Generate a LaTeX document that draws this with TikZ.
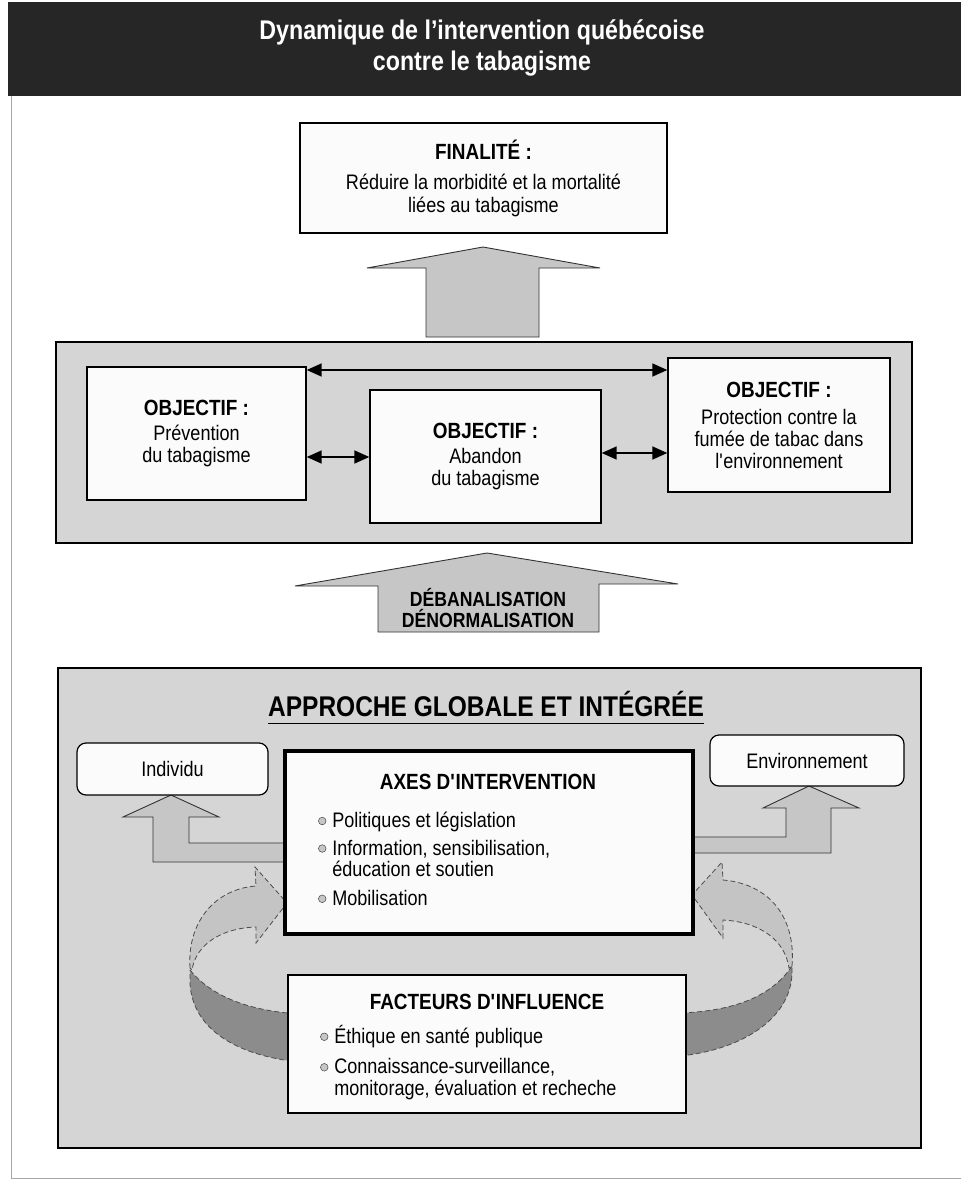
\documentclass[tikz,border=0pt]{standalone}
\usepackage{fontspec}
\setmainfont{Liberation Sans}[FakeStretch=0.86]
\usetikzlibrary{arrows.meta}

\definecolor{barcol}{HTML}{262626}
\definecolor{panelcol}{HTML}{D5D5D5}
\definecolor{arrowcol}{HTML}{C6C6C6}
\definecolor{ribbonlight}{HTML}{C4C4C4}
\definecolor{ribbondark}{HTML}{8C8C8C}
\definecolor{boxcol}{HTML}{FBFBFB}

% small grey bullet used in the lists
\newcommand\puce{\tikz[baseline=-0.6ex]\draw[fill=gray!45,draw=gray!55!black,line width=0.5pt] (0,0) circle (3.8pt);}
% straight apostrophe
\newcommand\apos{\textquotesingle}

\begin{document}
\begin{tikzpicture}[x=1pt,y=-1pt,
  panel/.style={draw=black,line width=1.8pt,fill=panelcol,inner sep=0pt},
  box/.style={draw=black,line width=1.4pt,fill=boxcol,inner sep=0pt,align=center,
              font=\fontsize{21}{22}\selectfont},
  roundbox/.style={box,rounded corners=9pt,line width=1.2pt},
  blockarrow/.style={draw=black!80,line width=0.9pt,fill=arrowcol,line join=miter},
  dlink/.style={{Triangle[length=15pt,width=13pt]}-{Triangle[length=15pt,width=13pt]},line width=1.6pt},
  ribbon/.style={draw=black!70,dash pattern=on 5pt off 3pt,line width=0.8pt},
  headtxt/.style={inner sep=0pt,font=\bfseries\fontsize{22}{24}\selectfont},
  bodytxt/.style={inner sep=0pt,align=left,font=\fontsize{21}{21}\selectfont},
]
\useasboundingbox (0,0) rectangle (961,1185);
\fill[white] (0,0) rectangle (961,1185);

% title bar
\fill[barcol] (8,2) rectangle (961,96);
\node[text=white,align=center,font=\bfseries\fontsize{27}{31}\selectfont] (title) at (482,48)
  {Dynamique de l’intervention québécoise\\contre le tabagisme};
\draw[gray!70,line width=0.8pt] (11,96) -- (11,1178) -- (961,1178);

% finality
\node[box,minimum width=367pt,minimum height=110pt] (fin) at (483.5,178)
  {{\bfseries\fontsize{22}{24}\selectfont FINALITÉ :}\\[8pt]Réduire la morbidité et la mortalité\\[1pt]liées au tabagisme};

\draw[blockarrow] (483,247) -- (600,268) -- (539,268) -- (539,337) -- (426,337)
  -- (426,268) -- (367,268) -- cycle;

% objectives
\node[panel,minimum width=856pt,minimum height=201pt] (objpanel) at (484,442.5) {};
\node[box,minimum width=219pt,minimum height=133pt] (obj1) at (196.5,433.5)
  {{\bfseries\fontsize{22}{24}\selectfont OBJECTIF :}\\[3pt]Prévention\\du tabagisme};
\node[box,minimum width=231pt,minimum height=133pt] (obj2) at (485.5,456.5)
  {{\bfseries\fontsize{22}{24}\selectfont OBJECTIF :}\\[3pt]Abandon\\du tabagisme};
\node[box,minimum width=222pt,minimum height=134pt] (obj3) at (779,425)
  {{\bfseries\fontsize{22}{24}\selectfont OBJECTIF :}\\[5pt]Protection contre la\\fumée de tabac dans\\l\apos environnement};

\coordinate (rowtop) at (0,370);
\coordinate (rowleft) at (0,457);
\coordinate (rowright) at (0,453);
\draw[dlink] (obj1.east |- rowtop) -- (obj3.west |- rowtop);
\draw[dlink] (obj1.east |- rowleft) -- (obj2.west |- rowleft);
\draw[dlink] (obj2.east |- rowright) -- (obj3.west |- rowright);

% debanalisation arrow
\draw[blockarrow] (487,553) -- (678,584) -- (599,584) -- (599,632) -- (378,632)
  -- (378,586) -- (295,586) -- cycle;
\node[headtxt,align=center,font=\bfseries\fontsize{20.5}{21.5}\selectfont] (deban) at (488,608)
  {DÉBANALISATION\\DÉNORMALISATION};

% global approach
\node[panel,minimum width=863pt,minimum height=480pt] (approche) at (489.5,908) {};
\node[inner sep=0pt,font=\bfseries\fontsize{28.5}{32}\selectfont] (apptitle) at (486,704)
  {APPROCHE GLOBALE ET INTÉGRÉE};
\draw[line width=1.6pt] ([yshift=-7pt]apptitle.base west) -- ([yshift=-7pt]apptitle.base east);

% feedback ribbons
\fill[ribbondark] (190,970) .. controls (212,997) and (250,1011) .. (300,1014)
  -- (300,1062) .. controls (238,1056) and (193,1030) .. (190,984) -- cycle;
\draw[ribbon] (190,970) .. controls (212,997) and (250,1011) .. (300,1014);
\draw[ribbon] (300,1062) .. controls (238,1056) and (193,1030) .. (190,984) -- (190,970);
\draw[ribbon,fill=ribbonlight] (190,968) .. controls (187,922) and (215,889) .. (256,886)
  -- (255,867) -- (287,903) -- (256,943) -- (256,927)
  .. controls (222,928) and (196,944) .. (192,970) -- cycle;

\fill[ribbondark] (792,966) .. controls (772,996) and (735,1011) .. (680,1013)
  -- (680,1056) .. controls (740,1050) and (790,1020) .. (792,974) -- cycle;
\draw[ribbon] (792,966) .. controls (772,996) and (735,1011) .. (680,1013);
\draw[ribbon] (680,1056) .. controls (740,1050) and (790,1020) .. (792,974) -- (792,966);
\draw[ribbon,fill=ribbonlight] (792,966) .. controls (796,918) and (770,884) .. (723,880)
  -- (722,862) -- (692,895) -- (723,938) -- (723,920)
  .. controls (760,922) and (785,940) .. (789,968) -- cycle;

% arrows towards individual and environment
\draw[blockarrow] (171,795) -- (219,817) -- (189,817) -- (189,843) -- (286,843)
  -- (286,862) -- (153,862) -- (153,817) -- (123,817) -- cycle;
\draw[blockarrow] (809,786) -- (859,808) -- (831,808) -- (831,853) -- (692,853)
  -- (692,837) -- (786,837) -- (786,808) -- (763,808) -- cycle;

\node[roundbox,minimum width=191pt,minimum height=52pt] (indiv) at (172.5,769) {Individu};
\node[roundbox,minimum width=194pt,minimum height=51pt] (envir) at (807,760.5) {Environnement};

% intervention axes
\node[box,line width=4pt,minimum width=408pt,minimum height=183pt] (axes) at (489,842.5) {};
\node[headtxt] (axestitle) at (488,782) {AXES D\apos INTERVENTION};
\node[bodytxt,anchor=north west] (axeslist) at (318,812)
  {\begin{tabular}{@{}l@{\hspace{6pt}}l@{}}
   \puce & Politiques et législation\\[6pt]
   \puce & Information, sensibilisation,\\
         & éducation et soutien\\[7pt]
   \puce & Mobilisation
   \end{tabular}};

% influence factors
\node[box,minimum width=398pt,minimum height=138pt] (facteurs) at (487,1044) {};
\node[headtxt] (factitle) at (487,1002) {FACTEURS D\apos INFLUENCE};
\node[bodytxt,anchor=north west] (faclist) at (320,1025)
  {\begin{tabular}{@{}l@{\hspace{6pt}}l@{}}
   \puce & Éthique en santé publique\\[9pt]
   \puce & Connaissance-surveillance,\\
         & monitorage, évaluation et recheche
   \end{tabular}};
\end{tikzpicture}
\end{document}
